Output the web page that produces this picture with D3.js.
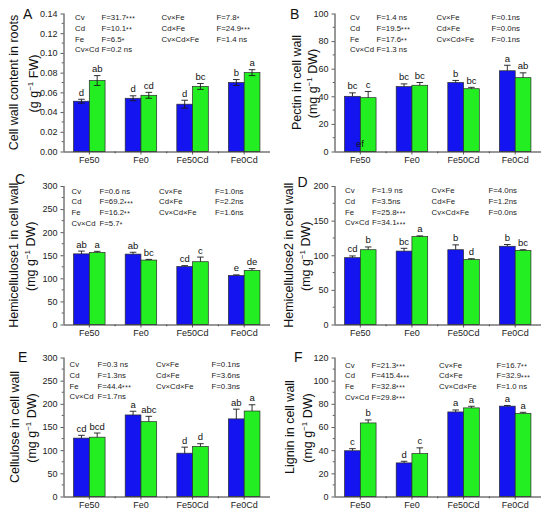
<!DOCTYPE html>
<html>
<head>
<meta charset="utf-8">
<script src="https://cdn.jsdelivr.net/npm/d3@7"></script>
<style>
  body { margin: 0; background: #fff; }
  svg { font-family: "Liberation Sans", Arial, sans-serif; }
</style>
</head>
<body>
<div id="chart"></div>
<script>
// treatments on the x axis
const groups = ["Fe50", "Fe0", "Fe50Cd", "Fe0Cd"];

// A - cell wall content in roots (g g-1 FW)
const wallBlue = [0.051, 0.054, 0.048, 0.070];
const wallBlueErr = [0.002, 0.0025, 0.004, 0.003];
const wallGreen = [0.072, 0.057, 0.066, 0.080];
const wallGreenErr = [0.005, 0.003, 0.003, 0.003];
const wallLetters = [["d", "ab"], ["d", "cd"], ["d", "bc"], ["b", "a"]];
const wallStats = [["Cv", "F=31.7***"], ["Cd", "F=10.1**"], ["Fe", "F=6.5*"], ["Cv×Cd", "F=0.2 ns"],
                   ["Cv×Fe", "F=7.8*"], ["Cd×Fe", "F=24.9***"], ["Cv×Cd×Fe", "F=1.4 ns"]];

// B - pectin
const pectinBlue = [40, 47, 50, 58.5];
const pectinBlueErr = [2.5, 2, 1.5, 4];
const pectinGreen = [39, 48, 45.5, 53.5];
const pectinGreenErr = [4.5, 2, 1, 3.5];
const pectinLetters = [["bc", "c"], ["bc", "bc"], ["b", "bc"], ["a", "ab"]];
const pectinStats = [["Cv", "F=1.4 ns"], ["Cd", "F=19.5***"], ["Fe", "F=17.6**"], ["Cv×Cd", "F=1.3 ns"],
                     ["Cv×Fe", "F=0.1ns"], ["Cd×Fe", "F=0.0ns"], ["Cv×Cd×Fe", "F=0.1ns"]];

// C - hemicellulose1
const hemi1Blue = [153, 152.5, 125.5, 106];
const hemi1BlueErr = [6, 4, 2, 1.5];
const hemi1Green = [156, 139.5, 136, 117];
const hemi1GreenErr = [2.5, 1.5, 10, 4];
const hemi1Letters = [["ab", "a"], ["ab", "bc"], ["cd", "c"], ["e", "de"]];
const hemi1Stats = [["Cv", "F=0.6 ns"], ["Cd", "F=69.2***"], ["Fe", "F=16.2**"], ["Cv×Cd", "F=5.7*"],
                    ["Cv×Fe", "F=1.0ns"], ["Cd×Fe", "F=2.2ns"], ["Cv×Cd×Fe", "F=1.6ns"]];

// D - hemicellulose2
const hemi2Blue = [96.5, 106, 108, 113];
const hemi2BlueErr = [2.5, 4, 7, 2.5];
const hemi2Green = [108, 127, 94, 107];
const hemi2GreenErr = [4, 1, 1, 1];
const hemi2Letters = [["cd", "b"], ["bc", "a"], ["b", "d"], ["b", "bc"]];
const hemi2Stats = [["Cv", "F=1.9 ns"], ["Cd", "F=3.5ns"], ["Fe", "F=25.8***"], ["Cv×Cd", "F=34.1***"],
                    ["Cv×Fe", "F=4.0ns"], ["Cd×Fe", "F=1.2ns"], ["Cv×Cd×Fe", "F=0.0ns"]];

// E - cellulose
const celluBlue = [126, 176, 93.5, 167.5];
const celluBlueErr = [6, 8, 13, 21];
const celluGreen = [128, 161.5, 108, 184.5];
const celluGreenErr = [9, 11.5, 6, 13.5];
const celluLetters = [["cd", "bcd"], ["a", "abc"], ["d", "d"], ["ab", "a"]];
const celluStats = [["Cv", "F=0.3 ns"], ["Cd", "F=1.3ns"], ["Fe", "F=44.4***"], ["Cv×Cd", "F=1.7ns"],
                    ["Cv×Fe", "F=0.1ns"], ["Cd×Fe", "F=3.6ns"], ["Cv×Cd×Fe", "F=0.3ns"]];

// F - lignin
const ligninBlue = [39.5, 29, 73, 78];
const ligninBlueErr = [1.8, 1.4, 1.7, 0.6];
const ligninGreen = [63.5, 37, 76.5, 71.8];
const ligninGreenErr = [2.6, 5, 1.4, 0.9];
const ligninLetters = [["c", "b"], ["d", "c"], ["a", "a"], ["a", "a"]];
const ligninStats = [["Cv", "F=21.3***"], ["Cd", "F=415.4***"], ["Fe", "F=32.8***"], ["Cv×Cd", "F=29.8***"],
                     ["Cv×Fe", "F=16.7**"], ["Cd×Fe", "F=32.9***"], ["Cv×Cd×Fe", "F=1.0 ns"]];

const blueColor = "#1414f0";
const greenColor = "#22ee22";

// column / row frames
const colX = [[63.5, 270], [334.5, 541]];
const rowY = [[13.5, 151.5], [186, 324.5], [357.5, 496.5]];

const panels = [
    { tag: "A", col: 0, row: 0, blue: wallBlue, blueErr: wallBlueErr, green: wallGreen, greenErr: wallGreenErr,
      letters: wallLetters, stats: wallStats, yMax: 0.14, step: 0.02, fmt: ".2f", both: true,
      title: "Cell wall content in roots", unit: ["(g g", "FW)"], titleX: [14, 33.5], tagPos: [23, 18.5],
      statX: [11.5, 38, 98, 153], statY: 6.5 },
    { tag: "B", col: 1, row: 0, blue: pectinBlue, blueErr: pectinBlueErr, green: pectinGreen, greenErr: pectinGreenErr,
      letters: pectinLetters, stats: pectinStats, yMax: 100, step: 20, fmt: "d",
      title: "Pectin in cell wall", unit: ["(mg g", "DW)"], titleX: [297, 313], tagPos: [290, 18.5],
      statX: [15.5, 42, 102, 157], statY: 6.5 },
    { tag: "C", col: 0, row: 1, blue: hemi1Blue, blueErr: hemi1BlueErr, green: hemi1Green, greenErr: hemi1GreenErr,
      letters: hemi1Letters, stats: hemi1Stats, yMax: 300, step: 50, fmt: "d",
      title: "Hemicellulose1 in cell wall", unit: ["(mg g", "DW)"], titleX: [13.5, 30.5], tagPos: [15, 184],
      statX: [8, 36, 95.5, 151.5], statY: 7.5 },
    { tag: "D", col: 1, row: 1, blue: hemi2Blue, blueErr: hemi2BlueErr, green: hemi2Green, greenErr: hemi2GreenErr,
      letters: hemi2Letters, stats: hemi2Stats, yMax: 200, step: 50, fmt: "d",
      title: "Hemicellulose2 in cell wall", unit: ["(mg g", "DW)"], titleX: [288.5, 305.5], tagPos: [297.5, 187],
      statX: [10.5, 37.5, 97, 154], statY: 7 },
    { tag: "E", col: 0, row: 2, blue: celluBlue, blueErr: celluBlueErr, green: celluGreen, greenErr: celluGreenErr,
      letters: celluLetters, stats: celluStats, yMax: 300, step: 50, fmt: "d",
      title: "Cellulose in cell wall", unit: ["(mg g", "DW)"], titleX: [15, 31.5], tagPos: [18, 362],
      statX: [6, 34, 92.5, 148], statY: 9.5 },
    { tag: "F", col: 1, row: 2, blue: ligninBlue, blueErr: ligninBlueErr, green: ligninGreen, greenErr: ligninGreenErr,
      letters: ligninLetters, stats: ligninStats, yMax: 120, step: 20, fmt: "d",
      title: "Lignin in cell wall", unit: ["(mg g", "DW)"], titleX: [289.5, 307.5], tagPos: [294, 362],
      statX: [10.5, 37, 104.5, 162], statY: 10 }
];

const svg = d3.select("#chart").append("svg").attr("width", 550).attr("height", 515);

panels.forEach(drawPanel);

// the stray "ef" label sitting inside the first pectin bar
const pectinY = d3.scaleLinear().domain([0, 100]).range([rowY[0][1], rowY[0][0]]);
svg.append("text").attr("x", 360).attr("y", pectinY(0) - 4.5)
    .attr("text-anchor", "middle").attr("font-size", 9.5).attr("fill", "#111").text("ef");

function drawPanel(p) {
    const [x0, x1] = colX[p.col];
    const [top, bottom] = rowY[p.row];
    const g = svg.append("g");

    const x = d3.scaleBand().domain(groups).range([x0, x1]).paddingInner(0.39).paddingOuter(0.195);
    const sub = d3.scaleBand().domain(["blue", "green"]).range([0, x.bandwidth()]);
    const y = d3.scaleLinear().domain([0, p.yMax]).range([bottom, top]);

    const rows = groups.map((grp, i) => ([
        { grp, key: "blue", v: p.blue[i], e: p.blueErr[i], lab: p.letters[i][0], fill: blueColor },
        { grp, key: "green", v: p.green[i], e: p.greenErr[i], lab: p.letters[i][1], fill: greenColor }
    ])).flat();

    // bars
    g.selectAll("rect").data(rows).enter().append("rect")
        .attr("x", d => x(d.grp) + sub(d.key))
        .attr("y", d => y(d.v))
        .attr("width", sub.bandwidth())
        .attr("height", d => bottom - y(d.v))
        .attr("fill", d => d.fill)
        .attr("stroke", "#2a2a2a")
        .attr("stroke-width", 0.7);

    // error bars
    const cap = 3.3;
    rows.forEach(d => {
        const cx = x(d.grp) + sub(d.key) + sub.bandwidth() / 2;
        const lo = p.both ? d.v - d.e : d.v;
        const hi = d.v + d.e;
        g.append("line").attr("x1", cx).attr("x2", cx).attr("y1", y(lo)).attr("y2", y(hi))
            .attr("stroke", "#1a1a1a").attr("stroke-width", 0.9);
        g.append("line").attr("x1", cx - cap).attr("x2", cx + cap).attr("y1", y(hi)).attr("y2", y(hi))
            .attr("stroke", "#1a1a1a").attr("stroke-width", 0.9);
        if (p.both) {
            g.append("line").attr("x1", cx - cap).attr("x2", cx + cap).attr("y1", y(lo)).attr("y2", y(lo))
                .attr("stroke", "#1a1a1a").attr("stroke-width", 0.9);
        }
        g.append("text").attr("x", cx).attr("y", y(hi) - 3.5)
            .attr("text-anchor", "middle").attr("font-size", 9.5).attr("fill", "#111").text(d.lab);
    });

    // y axis with minor ticks
    const yTicks = d3.range(0, p.yMax + p.step / 2, p.step);
    const yAxis = g.append("g").attr("transform", `translate(${x0},0)`)
        .call(d3.axisLeft(y).tickValues(yTicks).tickSize(3).tickPadding(3).tickFormat(d3.format(p.fmt)));
    const minor = d3.range(p.step / 2, p.yMax, p.step);
    g.selectAll(".minorY").data(minor).enter().append("line")
        .attr("x1", x0 - 1.8).attr("x2", x0).attr("y1", d => y(d)).attr("y2", d => y(d))
        .attr("stroke", "#333").attr("stroke-width", 0.8);

    // x axis: ticks at centers, minor at borders
    const xAxis = g.append("g").attr("transform", `translate(0,${bottom})`)
        .call(d3.axisBottom(x).tickSize(3).tickPadding(2.5));
    const borders = groups.slice(1).map(grp => x(grp) - x.step() * x.paddingInner() / 2);
    g.selectAll(".minorX").data(borders).enter().append("line")
        .attr("x1", d => d).attr("x2", d => d).attr("y1", bottom).attr("y2", bottom + 1.8)
        .attr("stroke", "#333").attr("stroke-width", 0.8);

    [yAxis, xAxis].forEach(ax => {
        ax.select(".domain").attr("stroke", "#333").attr("stroke-width", 1);
        ax.selectAll(".tick line").attr("stroke", "#333").attr("stroke-width", 0.8);
        ax.selectAll("text").attr("font-size", 9).attr("fill", "#222")
            .attr("font-family", "'Liberation Sans', Arial, sans-serif");
    });
    yAxis.select(".domain").attr("d", `M0.5,${bottom}V${top}`);
    xAxis.select(".domain").attr("d", `M${x0},0.5H${x1}`);

    // axis title, two lines
    const midY = (top + bottom) / 2;
    g.append("text").attr("transform", `translate(${p.titleX[0]},${midY}) rotate(-90)`)
        .attr("dy", "0.35em").attr("text-anchor", "middle").attr("font-size", 12.5).attr("fill", "#111")
        .text(p.title);
    const unit = g.append("text").attr("transform", `translate(${p.titleX[1]},${midY + 1}) rotate(-90)`)
        .attr("dy", "0.35em").attr("text-anchor", "middle").attr("font-size", 12.5).attr("fill", "#111");
    unit.append("tspan").text(p.unit[0]);
    unit.append("tspan").attr("font-size", 8).attr("dy", -5).text("−1");
    unit.append("tspan").attr("dy", 5).text(" " + p.unit[1]);

    // panel letter
    g.append("text").attr("x", p.tagPos[0]).attr("y", p.tagPos[1])
        .attr("font-size", 14).attr("fill", "#111").text(p.tag);

    // ANOVA statistics, significance stars drawn small
    p.stats.forEach((s, i) => {
        const c = i < 4 ? 0 : 2;
        const r = i < 4 ? i : i - 4;
        const yy = top + p.statY + r * 10.8;
        g.append("text").attr("x", x0 + p.statX[c]).attr("y", yy)
            .attr("font-size", 7.8).attr("fill", "#222").text(s[0]);
        const t = g.append("text").attr("x", x0 + p.statX[c + 1]).attr("y", yy)
            .attr("font-size", 7.8).attr("fill", "#222");
        const m = s[1].match(/^([^*]*)(\**)$/);
        t.append("tspan").text(m[1]);
        if (m[2]) {
            t.append("tspan").attr("font-size", 6.5).attr("dy", 1.2)
                .attr("letter-spacing", 0.6).text(m[2]);
        }
    });
}
</script>
</body>
</html>
